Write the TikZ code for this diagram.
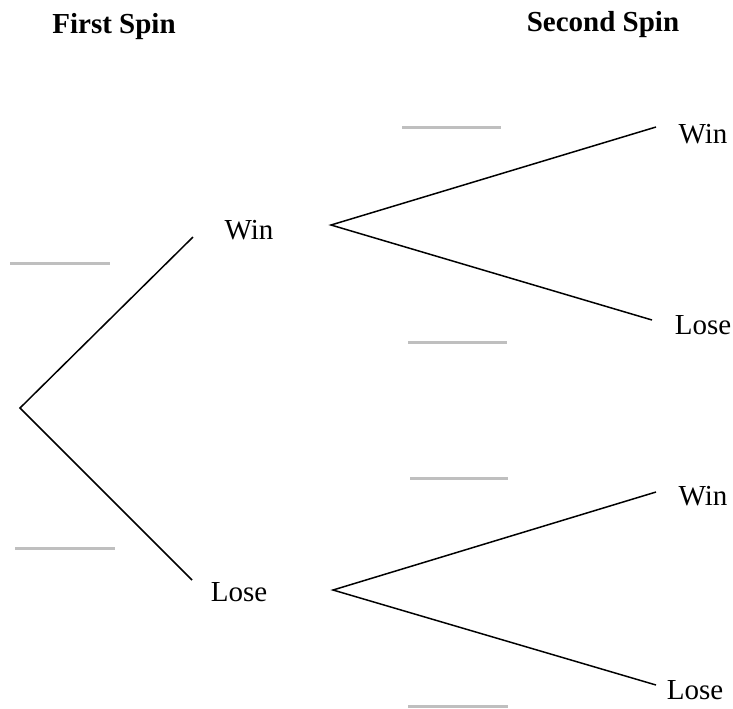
\documentclass[tikz,border=0pt]{standalone}
\usepackage{fontspec}
\setmainfont{Liberation Serif}
\usepackage{tikz}
\usetikzlibrary{positioning}

\begin{document}
\begin{tikzpicture}[x=0.02cm,y=-0.02cm]

        \tikzstyle{outcome}=[inner sep=0pt,font=\fontsize{16.5}{20}\selectfont]
        \tikzstyle{heading}=[outcome,font=\fontsize{16.5}{20}\selectfont\bfseries]
        \tikzstyle{branch}=[line width=0.85pt,black]
        \tikzstyle{blank}=[line width=1.7pt,color=black!25]

        \useasboundingbox (0,0) rectangle (733,708);

        %% Headings
        \node[heading] (first) at (114,27) {First Spin};
        \node[heading] (second) at (603,25) {Second Spin};

        %% First spin
        \coordinate (root) at (20,408);
        \coordinate (w1) at (193,237);
        \coordinate (l1) at (192,580);
        \node[outcome] (win) at (249,230) {Win};
        \node[outcome] (lose) at (239,592) {Lose};
        \draw[branch] (w1) -- (root) -- (l1);

        %% Second spin
        \coordinate (ww) at (331,225);
        \coordinate (ll) at (333,590);
        \coordinate (ww1) at (656,127);
        \coordinate (wl1) at (652,320);
        \coordinate (lw1) at (656,492);
        \coordinate (ll1) at (656,685);
        \node[outcome] (winwin) at (703,134) {Win};
        \node[outcome] (winlose) at (703,325) {Lose};
        \node[outcome] (losewin) at (703,496) {Win};
        \node[outcome] (loselose) at (695,690) {Lose};
        \draw[branch] (ww1) -- (ww) -- (wl1);
        \draw[branch] (lw1) -- (ll) -- (ll1);

        %% Probability blanks
        \draw[blank] (10,263) -- (110,263);
        \draw[blank] (15,548) -- (115,548);
        \draw[blank] (402,127) -- (501,127);
        \draw[blank] (408,342) -- (507,342);
        \draw[blank] (410,478) -- (508,478);
        \draw[blank] (408,706) -- (508,706);

\end{tikzpicture}
\end{document}
